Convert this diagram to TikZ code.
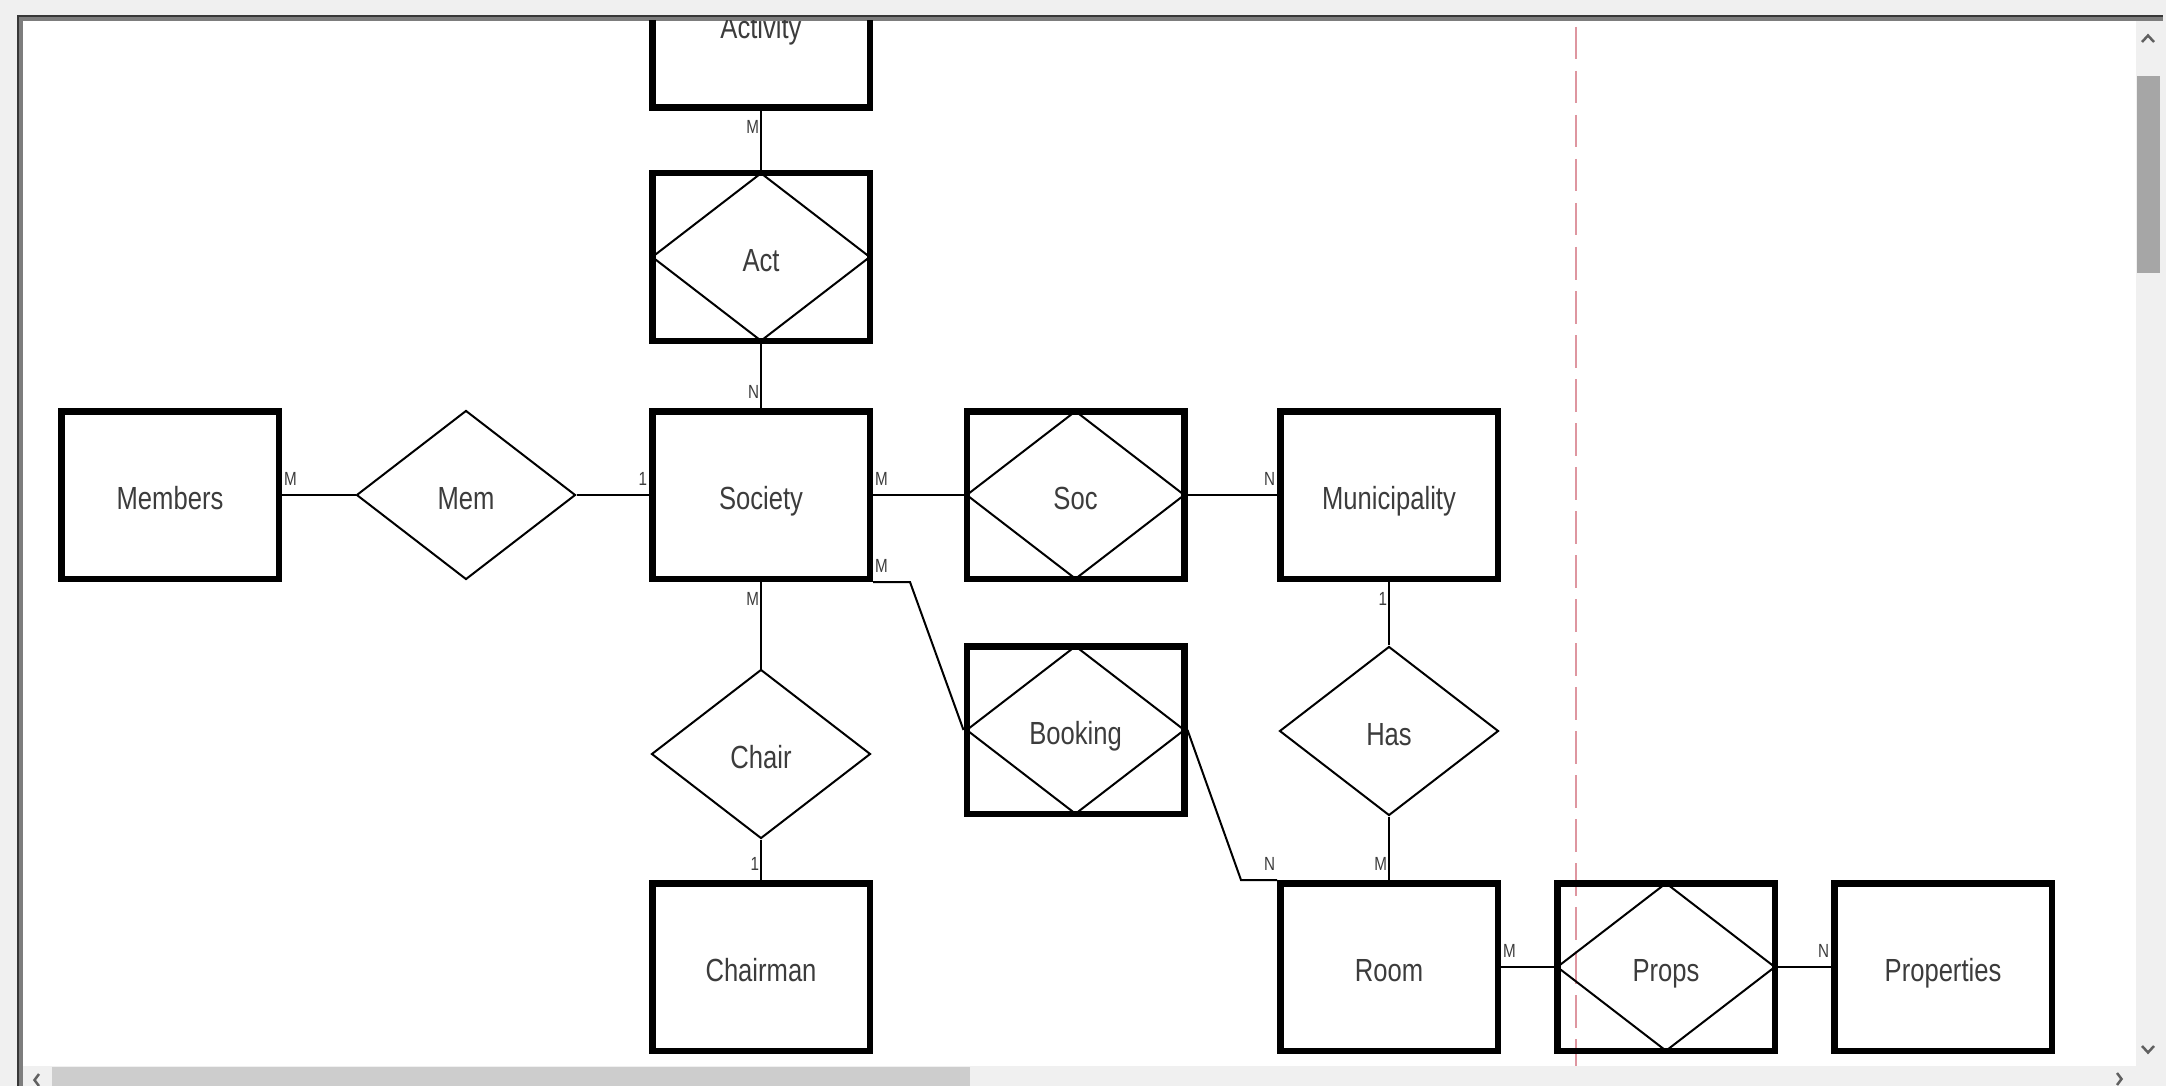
\documentclass[tikz,border=0pt]{standalone}
\usepackage{fontspec}
\setmainfont[FakeStretch=0.8]{Liberation Sans}
\usetikzlibrary{shapes.geometric}

\definecolor{chrome}{RGB}{240,240,240}
\definecolor{framedark}{RGB}{55,55,55}
\definecolor{framemid}{RGB}{125,125,125}
\definecolor{thumbdark}{RGB}{166,166,166}
\definecolor{thumblight}{RGB}{205,205,205}
\definecolor{arrowgray}{RGB}{96,96,96}
\definecolor{margin}{RGB}{222,150,160}
\definecolor{textgray}{RGB}{60,60,60}

\begin{document}
\begin{tikzpicture}[x=1pt,y=-1pt,
  entity/.style = {draw,rectangle,line width=6.5pt,minimum width=217.5pt,minimum height=167.5pt,inner sep=0pt,
    font=\fontsize{32}{38}\selectfont,text height=29pt,text depth=0pt,text=textgray},
  relation/.style = {draw,diamond,line width=2pt,minimum width=219pt,minimum height=169pt,inner sep=0pt,
    font=\fontsize{32}{38}\selectfont,text height=29pt,text depth=0pt,text=textgray},
  weakrel/.style = {entity,path picture={
    \draw[line width=2pt] (path picture bounding box.west) -- (path picture bounding box.north)
      -- (path picture bounding box.east) -- (path picture bounding box.south) -- cycle;}},
  card/.style = {font=\fontsize{19}{22}\selectfont,inner xsep=1pt,inner ysep=9pt,text height=13pt,text depth=0pt,text=textgray},
  link/.style = {line width=2pt}]
\useasboundingbox (0,0) rectangle (2166,1086);

% window
\fill[chrome] (0,0) rectangle (2166,1086);
\fill[white] (23,21) rectangle (2136,1066);
\fill[framedark] (17,15) rectangle (2163,17.5);
\fill[framemid] (17,17.5) rectangle (2163,21);
\fill[framedark] (17,15) rectangle (19,1086);
\fill[framemid] (19,17.5) rectangle (23,1086);
\fill[thumbdark] (2137,76) rectangle (2160,273);
\fill[thumblight] (52,1067) rectangle (970,1086);
\draw[arrowgray,line width=2.5pt] (2142,42) -- (2148,35.5) -- (2154,42);
\draw[arrowgray,line width=2.5pt] (2142,1046) -- (2148,1052.5) -- (2154,1046);
\draw[arrowgray,line width=2.5pt] (39,1074) -- (34.5,1080) -- (39,1086);
\draw[arrowgray,line width=2.5pt] (2117,1073) -- (2121.5,1079) -- (2117,1085);

\begin{scope}
\clip (23,21) rectangle (2136,1066);
\draw[margin,line width=1.6pt,dash pattern=on 32.5pt off 11.5pt] (1576,27) -- (1576,1066);

\node[entity] (Activity) at (761,24) {Activity};
\node[weakrel] (Act) at (761,257) {Act};
\node[entity] (Members) at (170,495) {Members};
\node[relation] (Mem) at (466,495) {Mem};
\node[entity] (Society) at (761,495) {Society};
\node[weakrel] (Soc) at (1075.5,495) {Soc};
\node[entity] (Municipality) at (1389,495) {Municipality};
\node[relation] (Chair) at (761,754) {Chair};
\node[entity] (Chairman) at (761,967) {Chairman};
\node[weakrel] (Booking) at (1075.5,730) {Booking};
\node[relation] (Has) at (1389,731) {Has};
\node[entity] (Room) at (1389,967) {Room};
\node[weakrel] (Props) at (1666,967) {Props};
\node[entity] (Properties) at (1943,967) {Properties};

\draw[link] (Activity) -- node[card,at start,anchor=north east] {M} (Act);
\draw[link] (Act) -- node[card,at end,anchor=south east] {N} (Society);
\draw[link] (Members) -- node[card,at start,anchor=south west] {M} (Mem);
\draw[link] (Mem) -- node[card,at end,anchor=south east] {1} (Society);
\draw[link] (Society) -- node[card,at start,anchor=south west] {M} (Soc);
\draw[link] (Soc) -- node[card,at end,anchor=south east] {N} (Municipality);
\draw[link] (Society) -- node[card,at start,anchor=north east] {M} (Chair);
\draw[link] (Chair) -- node[card,at end,anchor=south east] {1} (Chairman);
\draw[link] (Municipality) -- node[card,at start,anchor=north east] {1} (Has);
\draw[link] (Has) -- node[card,at end,anchor=south east] {M} (Room);
\draw[link] (Room) -- node[card,at start,anchor=south west] {M} (Props);
\draw[link] (Props) -- node[card,at end,anchor=south east] {N} (Properties);
\draw[link] (Society.south east) node[card,anchor=south west] {M} -- ++(37,0) -- (Booking.west);
\draw[link] (Booking.east) -- ([xshift=-36pt]Room.north west) -- (Room.north west) node[card,anchor=south east] {N};
\end{scope}
\end{tikzpicture}
\end{document}
